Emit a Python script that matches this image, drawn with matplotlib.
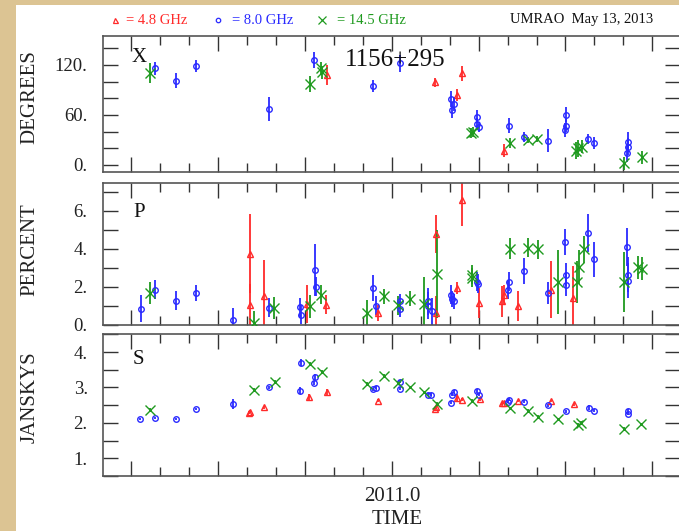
import matplotlib
matplotlib.use("Agg")
import matplotlib.pyplot as plt
from matplotlib.ticker import MultipleLocator, FixedLocator, FuncFormatter
from matplotlib.patches import Rectangle
from matplotlib.lines import Line2D

plt.rcParams['font.family'] = ['Liberation Serif', 'DejaVu Serif']

# ---------------- data ----------------
# Polarization angle (degrees)
x_t_48 = [2010.813, 2011.125, 2011.187, 2011.203, 2011.323]
x_v_48 = [108, 99, 84, 110, 17]
x_e_48 = [12, 5, 7, 9, 8]

x_t_80 = [2010.318, 2010.379, 2010.435, 2010.645, 2010.777, 2010.945, 2011.024,
          2011.170, 2011.180, 2011.173, 2011.245, 2011.245, 2011.250, 2011.338,
          2011.382, 2011.451, 2011.502, 2011.502, 2011.499, 2011.566, 2011.581,
          2011.681, 2011.679, 2011.677]
x_v_80 = [116, 101, 119, 67, 126, 95, 122, 79, 73, 66, 58, 49, 46, 47, 34, 29,
          60, 47, 42, 31, 26, 28, 22, 14]
x_e_80 = [8, 9, 7, 14, 10, 7, 10, 10, 8, 10, 8, 7, 6, 9, 6, 14, 9, 8, 8, 6, 7,
          12, 10, 10]

x_t_145 = [2010.302, 2010.765, 2010.795, 2010.800, 2011.228, 2011.235, 2011.341,
           2011.393, 2011.418, 2011.530, 2011.535, 2011.547, 2011.670, 2011.720]
x_v_145 = [110, 97, 116, 111, 38, 40, 26, 30, 31, 17, 20, 22, 2, 9]
x_e_145 = [12, 10, 8, 8, 6, 6, 6, 4, 4, 10, 10, 8, 8, 8]

# Fractional polarization (percent)
p_t_48 = [2010.592, 2010.590, 2010.632, 2010.757, 2010.811, 2010.960, 2011.127,
          2011.128, 2011.187, 2011.203, 2011.252, 2011.317, 2011.323, 2011.363,
          2011.458, 2011.523]
p_v_48 = [3.73, 1.06, 1.50, 1.09, 1.05, 0.62, 4.75, 0.62, 1.94, 6.54, 1.14,
          1.23, 1.58, 0.97, 1.85, 1.41]
p_e_48 = [2.07, 1.1, 1.9, 1.0, 0.5, 0.4, 1.0, 0.9, 0.3, 1.35, 0.8, 0.8, 0.5,
          0.8, 1.5, 1.7]

p_t_80 = [2010.277, 2010.318, 2010.379, 2010.435, 2010.543, 2010.645, 2010.736,
          2010.739, 2010.779, 2010.781, 2010.945, 2010.953, 2011.024, 2011.024,
          2011.104, 2011.105, 2011.117, 2011.170, 2011.173, 2011.180, 2011.245,
          2011.248, 2011.334, 2011.338, 2011.382, 2011.451, 2011.499, 2011.502,
          2011.502, 2011.566, 2011.581, 2011.677, 2011.679, 2011.681]
p_v_80 = [0.84, 1.85, 1.27, 1.67, 0.26, 0.88, 0.92, 0.53, 2.87, 1.99, 1.94,
          1.00, 1.23, 0.83, 1.23, 1.00, 0.70, 1.58, 1.35, 1.23, 2.25, 2.15,
          1.85, 2.25, 2.82, 1.67, 4.35, 2.64, 2.11, 4.84, 3.43, 4.10, 2.64, 2.32]
p_e_80 = [0.7, 0.5, 0.5, 0.4, 0.6, 0.5, 0.5, 0.5, 1.35, 0.5, 0.7, 0.5, 0.4,
          0.4, 0.7, 0.7, 0.7, 0.5, 0.4, 0.4, 0.5, 0.5, 0.5, 0.5, 0.7, 0.6, 0.7,
          0.6, 0.6, 1.0, 0.9, 1.0, 0.9, 0.9]

p_t_145 = [2010.302, 2010.604, 2010.661, 2010.765, 2010.795, 2010.928, 2010.976,
           2011.017, 2011.053, 2011.094, 2011.130, 2011.230, 2011.232, 2011.341,
           2011.392, 2011.420, 2011.478, 2011.533, 2011.540, 2011.554, 2011.669,
           2011.710, 2011.720]
p_v_145 = [1.67, 0.10, 0.88, 0.97, 1.58, 0.62, 1.50, 1.02, 1.37, 1.09, 2.67,
           2.64, 2.46, 4.00, 4.05, 3.96, 2.25, 2.25, 3.04, 3.96, 2.25, 3.03, 2.95]
p_e_145 = [0.6, 0.6, 0.6, 0.6, 0.5, 0.7, 0.4, 0.5, 0.4, 1.4, 2.3, 0.5, 0.5,
           0.55, 0.5, 0.5, 1.7, 1.1, 0.9, 0.7, 1.6, 0.6, 0.6]

# Total flux density (Jy)
s_t_48 = [2010.589, 2010.592, 2010.632, 2010.760, 2010.812, 2010.961, 2011.125,
          2011.127, 2011.187, 2011.203, 2011.254, 2011.317, 2011.323, 2011.363,
          2011.458, 2011.525]
s_v_48 = [2.29, 2.31, 2.44, 2.74, 2.86, 2.63, 2.39, 2.44, 2.71, 2.65, 2.67,
          2.55, 2.56, 2.62, 2.62, 2.53]
s_e_48 = [0.04, 0.04, 0.05, 0.08, 0.10, 0.04, 0.05, 0.05, 0.10, 0.04, 0.04,
          0.04, 0.04, 0.04, 0.04, 0.04]

s_t_80 = [2010.275, 2010.318, 2010.379, 2010.435, 2010.543, 2010.645, 2010.736,
          2010.739, 2010.777, 2010.779, 2010.945, 2010.953, 2011.024, 2011.024,
          2011.105, 2011.112, 2011.170, 2011.173, 2011.180, 2011.245, 2011.250,
          2011.334, 2011.338, 2011.382, 2011.451, 2011.502, 2011.568, 2011.581,
          2011.679, 2011.681]
s_v_80 = [2.11, 2.13, 2.11, 2.39, 2.53, 3.00, 2.91, 3.70, 3.13, 3.29, 2.95,
          2.99, 3.16, 2.96, 2.79, 2.80, 2.57, 2.79, 2.88, 2.90, 2.79, 2.60,
          2.65, 2.60, 2.50, 2.33, 2.43, 2.34, 2.34, 2.26]
s_e_80 = [0.03, 0.03, 0.03, 0.03, 0.15, 0.04, 0.10, 0.10, 0.05, 0.08, 0.04,
          0.04, 0.04, 0.04, 0.04, 0.04, 0.04, 0.04, 0.04, 0.05, 0.04, 0.04,
          0.04, 0.04, 0.04, 0.04, 0.08, 0.04, 0.05, 0.04]

s_t_145 = [2010.302, 2010.604, 2010.664, 2010.765, 2010.798, 2010.928, 2010.976,
           2011.019, 2011.053, 2011.094, 2011.131, 2011.230, 2011.339, 2011.393,
           2011.420, 2011.478, 2011.536, 2011.546, 2011.669, 2011.718]
s_v_145 = [2.36, 2.93, 3.16, 3.66, 3.44, 3.10, 3.33, 3.12, 3.00, 2.86, 2.53,
           2.63, 2.41, 2.33, 2.17, 2.10, 1.94, 2.00, 1.82, 1.96]
s_e_145 = [0.05] * len(s_t_145)

panel_letters = ["X", "P", "S"]
y_labels = ["DEGREES", "PERCENT", "JANSKYS"]
source_name = "1156+295"
header_right = "UMRAO  May 13, 2013"
freq_labels = ["= 4.8 GHz", "= 8.0 GHz", "= 14.5 GHz"]

# ---------------- styling ----------------
RED, BLUE, GREEN = "#ff2a2a", "#2a2aff", "#1f9a1f"
W, H = 679, 531
fig = plt.figure(figsize=(W / 100, H / 100), dpi=100)
fig.patch.set_facecolor("#dcc493")
fig.add_artist(Rectangle((16 / W, 0), 1 - 16 / W, 1 - 5 / H,
                         transform=fig.transFigure, facecolor="white",
                         edgecolor="none", zorder=0))

def fy(py):
    return 1 - py / H

left = 103 / W
width = 680 / W - left
boxes = [(35.5, 172.3), (182.7, 324.7), (334.0, 476.0)]
axes = []
for top, bot in boxes:
    ax = fig.add_axes([left, fy(bot), width, (bot - top) / H])
    axes.append(ax)

XMIN, XMAX = 2010.168, 2011.83
ylims = [(-8.8, 155.4), (0, 7.47), (0.5, 4.51)]
ysteps = [20, 1, 0.5]
ylabel_every = [60, 2, 1]
letter_y = [0.84, 0.79, 0.82]

def make_fmt(every):
    def f(v, pos):
        r = v / every
        if abs(r - round(r)) < 1e-6:
            return f"{v:.0f}."
        return ""
    return FuncFormatter(f)

groups = [
    [(x_t_48, x_v_48, x_e_48), (x_t_80, x_v_80, x_e_80), (x_t_145, x_v_145, x_e_145)],
    [(p_t_48, p_v_48, p_e_48), (p_t_80, p_v_80, p_e_80), (p_t_145, p_v_145, p_e_145)],
    [(s_t_48, s_v_48, s_e_48), (s_t_80, s_v_80, s_e_80), (s_t_145, s_v_145, s_e_145)],
]
styles = [
    dict(color=RED, marker="^", ms=4.5, mfc="none", mew=1.0),
    dict(color=BLUE, marker="o", ms=4.0, mfc="none", mew=1.0),
    dict(color=GREEN, marker="x", ms=7.5, mew=1.0),
]

for i, ax in enumerate(axes):
    ax.set_facecolor("white")
    for (t, v, e), st in zip(groups[i], styles):
        ax.errorbar(t, v, yerr=e, fmt="none", ecolor=st["color"], elinewidth=1.3,
                    capsize=0, zorder=2)
        ax.plot(t, v, linestyle="none", marker=st["marker"], ms=st["ms"],
                mfc=st.get("mfc", st["color"]), mec=st["color"], mew=st["mew"],
                zorder=3)
    ax.set_xlim(XMIN, XMAX)
    ax.set_ylim(*ylims[i])
    ax.yaxis.set_major_locator(MultipleLocator(ysteps[i]))
    ax.yaxis.set_major_formatter(make_fmt(ylabel_every[i]))
    ax.xaxis.set_major_locator(FixedLocator([2010.25, 2010.5, 2010.75, 2011.0,
                                             2011.25, 2011.5, 2011.75]))
    ax.xaxis.set_minor_locator(MultipleLocator(1 / 12))
    ax.xaxis.set_major_formatter(FuncFormatter(
        lambda v, p: "2011.0" if abs(v - 2011.0) < 1e-6 else ""))
    ax.tick_params(axis="both", which="both", direction="in", top=True,
                   right=True, color="#333333", width=1.0)
    ax.tick_params(axis="y", which="major", length=11, pad=11, labelsize=13.5,
                   labelcolor="#222222")
    ax.tick_params(axis="x", which="major", length=11, pad=8, labelsize=15,
                   labelcolor="#222222")
    ax.tick_params(axis="x", which="minor", length=6.5)
    if i < 2:
        ax.tick_params(axis="x", labelbottom=False)
    for sp in ax.spines.values():
        sp.set_color("#555555")
        sp.set_linewidth(1.2)
    ax.text(0.062, letter_y[i], panel_letters[i], transform=ax.transAxes,
            fontsize=15, ha="center", va="center", color="#111111")

axes[0].text(0.506, 0.82, source_name, transform=axes[0].transAxes,
             fontsize=18, ha="center", va="center", color="#111111")

# y labels
for lab, yc in zip(y_labels, [97, 250, 397]):
    fig.text(30 / W, fy(yc), lab, rotation=90, ha="center", va="center",
             fontsize=15, color="#222222")

fig.text(397 / W, fy(520), "TIME", ha="center", va="center", fontsize=15,
         color="#222222")

# header
hy = fy(20)
for (mx, tx, lab, st) in zip([115, 218, 322], [126, 232, 337], freq_labels, styles):
    fig.add_artist(Line2D([mx / W], [hy], transform=fig.transFigure,
                          linestyle="none", marker=st["marker"],
                          ms=st["ms"] * 0.8, mfc="none", mec=st["color"],
                          mew=0.9))
    fig.text(tx / W, hy, lab, ha="left", va="center", fontsize=10.5,
             color=st["color"])
fig.text(653 / W, hy, header_right, ha="right", va="center", fontsize=10.5,
         color="#111111")

fig.savefig("out.png", dpi=100, facecolor=fig.get_facecolor())
